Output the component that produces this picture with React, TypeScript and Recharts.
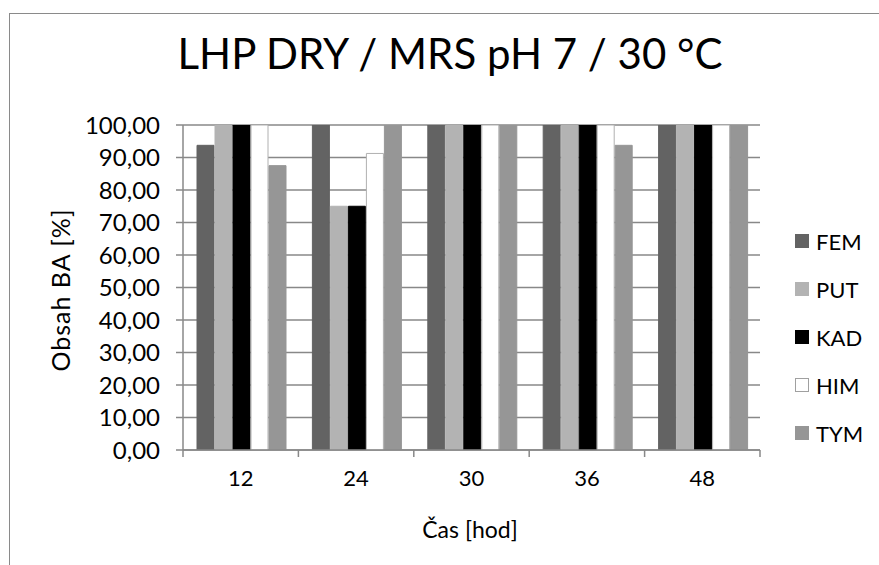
import React from 'react';
import { BarChart, Bar, XAxis, YAxis, CartesianGrid } from 'recharts';

const categories = ['12', '24', '30', '36', '48'];
const fem = [93.75, 100, 100, 100, 100];
const put = [100, 75, 100, 100, 100];
const kad = [100, 75, 100, 100, 100];
const him = [100, 91.25, 100, 100, 100];
const tym = [87.5, 100, 100, 93.75, 100];
const yTicks = [0, 10, 20, 30, 40, 50, 60, 70, 80, 90, 100];

const SERIES = [
  { key: 'FEM', values: fem, fill: '#636363', stroke: '#636363' },
  { key: 'PUT', values: put, fill: '#b3b3b3', stroke: '#b3b3b3' },
  { key: 'KAD', values: kad, fill: '#000000', stroke: '#000000' },
  { key: 'HIM', values: him, fill: '#ffffff', stroke: '#b0b0b0' },
  { key: 'TYM', values: tym, fill: '#969696', stroke: '#969696' },
];

const W = 879;
const H = 565;
const MARGIN = { top: 125, right: 119, bottom: 55, left: 0 };
const Y_W = 183;
const X_H = 60;
const PLOT_W = W - MARGIN.left - MARGIN.right - Y_W;
const HALF = PLOT_W / categories.length / 2;
const FONT = 'Lato, "Open Sans", sans-serif';
const AXIS = '#888888';

const data = categories.map((c, i) => {
  const row: any = { cat: c };
  SERIES.forEach((s) => (row[s.key] = s.values[i]));
  return row;
});

const fmt = (v: number) => v.toFixed(2).replace('.', ',');

// Excel style: tick marks between categories, label in the middle
const CatTick = (props: any) => {
  const { x, y, payload, index } = props;
  return (
    <g>
      <line x1={x - HALF} y1={y} x2={x - HALF} y2={y + 7} stroke={AXIS} strokeWidth={1.5} />
      {index === categories.length - 1 && (
        <line x1={x + HALF} y1={y} x2={x + HALF} y2={y + 7} stroke={AXIS} strokeWidth={1.5} />
      )}
      <text x={x} y={y + 36} textAnchor="middle" fontSize={22} fill="#000" fontFamily={FONT}>
        {payload.value}
      </text>
    </g>
  );
};

export default function App() {
  return (
    <div style={{ position: 'absolute', left: 0, top: 0, width: W, height: H, background: '#fff', overflow: 'hidden', fontFamily: FONT }}>
      <div style={{ position: 'absolute', left: 9, top: 13, width: 1000, height: 1000, borderLeft: '1.5px solid #8a8a8a', borderTop: '1.5px solid #8a8a8a' }} />
      <div style={{ position: 'absolute', left: 0, width: 900, top: 27, textAlign: 'center', fontSize: 42, color: '#000', lineHeight: '52px' }}>
        LHP DRY / MRS pH 7 / 30 °C
      </div>
      <div style={{ position: 'absolute', left: 60, top: 290, transform: 'translate(-50%, -50%) rotate(-90deg)', fontSize: 25, letterSpacing: 1, whiteSpace: 'nowrap', color: '#000' }}>
        Obsah BA [%]
      </div>
      <div style={{ position: 'absolute', left: 470, top: 529, transform: 'translate(-50%, -50%)', fontSize: 23, whiteSpace: 'nowrap', color: '#000' }}>
        Čas [hod]
      </div>

      <div style={{ position: 'absolute', left: 0, top: 0 }}>
        <BarChart width={W} height={H} data={data} margin={MARGIN} barCategoryGap={14} barGap={1}>
          <CartesianGrid vertical={false} stroke={AXIS} strokeWidth={1.5} />
          <XAxis
            dataKey="cat"
            height={X_H}
            axisLine={{ stroke: AXIS, strokeWidth: 1.5 }}
            tickLine={false}
            tickSize={0}
            tickMargin={0}
            tick={<CatTick />}
            interval={0}
          />
          <YAxis
            width={Y_W}
            domain={[0, 100]}
            ticks={yTicks}
            tickFormatter={fmt}
            axisLine={{ stroke: AXIS, strokeWidth: 1.5 }}
            tickLine={{ stroke: AXIS, strokeWidth: 1.5 }}
            tickSize={7}
            tickMargin={16}
            tick={{ fill: '#000', fontSize: 24, fontFamily: FONT }}
            allowDataOverflow
          />
          {SERIES.map((s) => (
            <Bar key={s.key} dataKey={s.key} fill={s.fill} stroke={s.stroke} strokeWidth={1} isAnimationActive={false} />
          ))}
        </BarChart>
      </div>

      <div style={{ position: 'absolute', left: 795, top: 217 }}>
        {SERIES.map((s) => (
          <div key={s.key} style={{ display: 'flex', alignItems: 'center', height: 48, fontSize: 22, color: '#000' }}>
            <span style={{ display: 'inline-block', width: 14, height: 14, marginRight: 7, background: s.fill, border: s.key === 'HIM' ? '1px solid #a0a0a0' : 'none', boxSizing: 'border-box' }} />
            <span>{s.key}</span>
          </div>
        ))}
      </div>
    </div>
  );
}
